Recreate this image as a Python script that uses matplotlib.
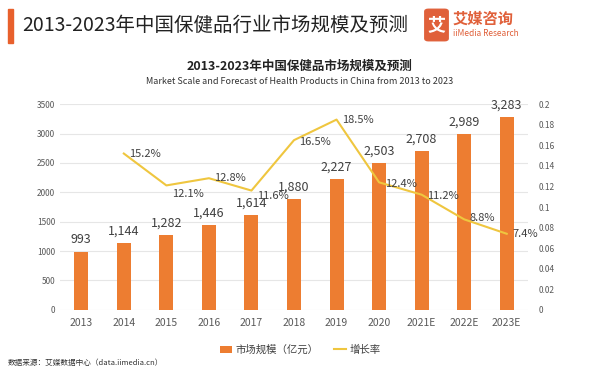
import matplotlib.pyplot as plt
from matplotlib.patches import FancyBboxPatch, Rectangle
import numpy as np

plt.rcParams['font.family'] = ['Noto Sans CJK SC', 'DejaVu Sans']

years = ['2013', '2014', '2015', '2016', '2017', '2018', '2019', '2020', '2021E', '2022E', '2023E']
scale = [993, 1144, 1282, 1446, 1614, 1880, 2227, 2503, 2708, 2989, 3283]
growth = [None, 0.152, 0.121, 0.128, 0.116, 0.165, 0.185, 0.124, 0.112, 0.088, 0.074]

bar_color = '#ED7D31'
line_color = '#EFC63F'
text_color = '#404040'

fig = plt.figure(figsize=(6, 3.72), dpi=100)
ax = fig.add_axes([0.1, 0.167, 0.78, 0.553])
ax2 = ax.twinx()

x = np.arange(len(years))
ax.bar(x, scale, width=0.33, color=bar_color, zorder=2, label='市场规模（亿元）')
for xi, v in zip(x, scale):
    ax.text(xi, v + 90, f'{v:,}', ha='center', va='bottom', fontsize=9, color=text_color)

ax.set_ylim(0, 3500)
ax.set_yticks(range(0, 3501, 500))
ax.set_xlim(-0.5, len(years) - 0.5)
ax.set_xticks(x)
ax.set_xticklabels(years, fontsize=7.5, color='#595959')
ax.tick_params(axis='y', labelsize=6, colors='#595959', length=0)
ax.tick_params(axis='x', length=0, pad=6)
ax.grid(axis='y', color='#E6E6E6', linewidth=0.8, zorder=0)
for s in ax.spines.values():
    s.set_visible(False)

gx = [xi for xi, g in zip(x, growth) if g is not None]
gy = [g for g in growth if g is not None]
ax2.plot(gx, gy, color=line_color, linewidth=1.5, label='增长率')
offsets = {1: (4, 0), 2: (4, -6), 3: (4, 0), 4: (4, -4), 5: (4, -1),
           6: (4, 0), 7: (4, -1), 8: (4, -1), 9: (4, 1), 10: (4, 0)}
for xi, g in zip(gx, gy):
    dx, dy = offsets[xi]
    ax2.annotate(f'{g * 100:.1f}%', (xi, g), xytext=(dx, dy), textcoords='offset points',
                 ha='left', va='center', fontsize=8, color=text_color)
ax2.set_ylim(0, 0.2)
ax2.set_yticks(np.arange(0, 0.201, 0.02))
ax2.set_yticklabels(['0', '0.02', '0.04', '0.06', '0.08', '0.1', '0.12', '0.14', '0.16', '0.18', '0.2'])
ax2.tick_params(axis='y', labelsize=6, colors='#595959', length=0, pad=8)
for s in ax2.spines.values():
    s.set_visible(False)

# header
fig.patches.append(Rectangle((8 / 600, 1 - 43 / 372), 5 / 600, 34 / 372,
                             transform=fig.transFigure, color='#E8602C'))
fig.text(22 / 600, 1 - 25 / 372, '2013-2023年中国保健品行业市场规模及预测',
         fontsize=14, color='#222222', va='center', ha='left')
fig.patches.append(FancyBboxPatch((426 / 600, 1 - 40 / 372), 21 / 600, 30 / 372,
                                  boxstyle='round,pad=0.002,rounding_size=0.006',
                                  transform=fig.transFigure, color='#E0603A'))
fig.text(436.5 / 600, 1 - 25 / 372, '艾', fontsize=13, color='white',
         ha='center', va='center', fontweight='bold')
fig.text(453 / 600, 1 - 19 / 372, '艾媒咨询', fontsize=11, color='#E0603A',
         ha='left', va='center', fontweight='bold')
fig.text(453 / 600, 1 - 34 / 372, 'iiMedia Research', fontsize=6, color='#E0603A',
         ha='left', va='center')

fig.text(0.5, 1 - 66 / 372, '2013-2023年中国保健品市场规模及预测',
         fontsize=9, fontweight='bold', color='#222222', ha='center', va='center')
fig.text(0.5, 1 - 82 / 372, 'Market Scale and Forecast of Health Products in China from 2013 to 2023',
         fontsize=6.5, color='#333333', ha='center', va='center')

h1, l1 = ax.get_legend_handles_labels()
h2, l2 = ax2.get_legend_handles_labels()
fig.legend(h1 + h2, l1 + l2, loc='center', bbox_to_anchor=(0.5, 1 - 350 / 372), ncol=2,
           frameon=False, fontsize=7.5, handlelength=1.2, handleheight=0.8,
           columnspacing=1.5, handletextpad=0.3, labelcolor='#404040')

fig.text(8 / 600, 1 - 363 / 372, '数据来源：艾媒数据中心（data.iimedia.cn）',
         fontsize=5.5, color='#333333', ha='left', va='center')

fig.savefig('out.png', dpi=100, facecolor='white')
